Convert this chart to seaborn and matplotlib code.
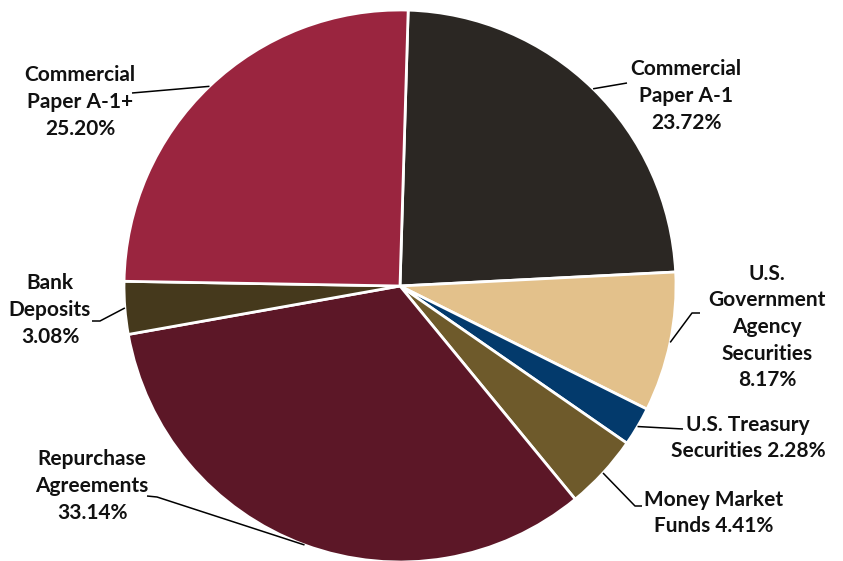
import numpy as np
import matplotlib

matplotlib.use("Agg")
import matplotlib.pyplot as plt
import seaborn as sns

# portfolio composition, clockwise from the top
CATEGORIES = [
    "Commercial\nPaper A-1",
    "U.S.\nGovernment\nAgency\nSecurities",
    "U.S. Treasury\nSecurities",
    "Money Market\nFunds",
    "Repurchase\nAgreements",
    "Bank\nDeposits",
    "Commercial\nPaper A-1+",
]
SHARES = [23.72, 8.17, 2.28, 4.41, 33.14, 3.08, 25.20]
# whether the percentage goes on its own line
PCT_NEWLINE = [True, True, False, False, True, True, True]
COLORS = ["#2b2723", "#e3c18b", "#033a6c", "#6e5a2b", "#5c1727", "#45391c", "#9a253f"]

W, H = 843, 561

# label layout in image pixels: text centre and leader points on the text side
LABEL_POS = [(686, 96), (767, 327), (748, 438), (714, 513), (92, 486), (50, 310), (80, 102)]
LEADER_PTS = [
    [(627, 83)],
    [(692, 313), (700, 313)],
    [(683, 429)],
    [(635, 506), (642, 506)],
    [(157, 497), (147, 496)],
    [(100, 321), (92, 321)],
    [(132, 93)],
]


def main() -> None:
    sns.set_theme(style="white")
    plt.rcParams["font.family"] = ["Lato", "DejaVu Sans"]

    fig = plt.figure(figsize=(W / 100, H / 100), dpi=100)
    ax = fig.add_axes([0, 0, 1, 1])

    cx, cy, r = 400, H - 286, 276
    wedges, _ = ax.pie(
        SHARES,
        colors=sns.color_palette(COLORS),
        startangle=88.3,
        counterclock=False,
        center=(cx, cy),
        radius=r,
        wedgeprops=dict(edgecolor="white", linewidth=2),
        frame=True,
    )
    ax.set_xlim(0, W)
    ax.set_ylim(0, H)
    ax.set_aspect("equal")
    ax.axis("off")

    for wedge, cat, share, newline, pos, pts in zip(
        wedges, CATEGORIES, SHARES, PCT_NEWLINE, LABEL_POS, LEADER_PTS
    ):
        mid = np.deg2rad((wedge.theta1 + wedge.theta2) / 2)
        anchor = (cx + r * np.cos(mid), cy + r * np.sin(mid))
        xs = [anchor[0]] + [p[0] for p in pts]
        ys = [anchor[1]] + [H - p[1] for p in pts]
        ax.plot(xs, ys, color="black", linewidth=1.1, solid_capstyle="butt")
        sep = "\n" if newline else " "
        ax.text(
            pos[0], H - pos[1], f"{cat}{sep}{share:.2f}%",
            ha="center", va="center", multialignment="center",
            fontsize=15, fontweight="bold", color="#111111", linespacing=1.42,
        )

    fig.savefig("out.png", dpi=100)


if __name__ == "__main__":
    main()
